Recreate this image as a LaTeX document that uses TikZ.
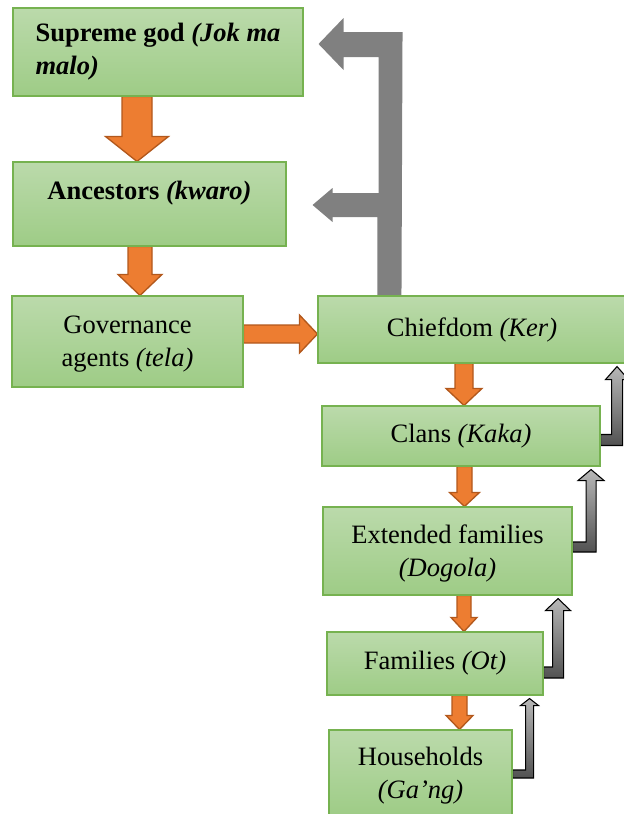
\documentclass[tikz,border=0pt]{standalone}
\usepackage{fontspec}
\setmainfont{Liberation Serif}
\usetikzlibrary{calc,backgrounds}

\definecolor{boxtop}{RGB}{187,218,171}
\definecolor{boxbot}{RGB}{158,204,134}
\definecolor{boxline}{RGB}{118,178,80}
\definecolor{orangefill}{RGB}{237,125,49}
\definecolor{orangeline}{RGB}{178,88,28}
\definecolor{bigarrow}{RGB}{128,128,128}

\tikzset{
  box/.style={draw=boxline, line width=0.8pt, top color=boxtop, bottom color=boxbot,
    inner sep=0pt, align=center, font=\fontsize{19.9}{24.75}\selectfont},
  orangearrow/.style={fill=orangefill, draw=orangeline, line width=1pt},
  greyarrow/.style={top color=black!28, bottom color=black!68, draw=black, line width=0.8pt},
  bigarrowfill/.style={fill=bigarrow},
}

%% down arrow between two boxes: upper, lower, x, half shaft, half head, head length
\newcommand{\orangedown}[6]{%
  \draw[orangearrow] let \p1=(#1.south), \p2=(#2.north), \p3=(#3,0), \p4=(#4,-#6), \p5=(#5,0) in
    (\x3-\x4,\y1) -- (\x3+\x4,\y1) -- (\x3+\x4,\y2+\y4) -- (\x3+\x5,\y2+\y4) -- (\x3,\y2)
    -- (\x3-\x5,\y2+\y4) -- (\x3-\x4,\y2+\y4) -- cycle;}

%% bent arrow from the right side of a box up to the box above it
\newcommand{\greyup}[7]{%
  \draw[greyarrow] let \p1=(#1.east), \p2=(#2.south), \p3=(#3,#4), \p4=(#5,-#7), \p5=(#6,-3) in
    (\x1,\y1+\y3+\x4) -- (\x1+\x3-\x4,\y1+\y3+\x4) -- (\x1+\x3-\x4,\y2-\y5-\y4)
    -- (\x1+\x3-\x5,\y2-\y5-\y4) -- (\x1+\x3,\y2-\y5) -- (\x1+\x3+\x5,\y2-\y5-\y4)
    -- (\x1+\x3+\x4,\y2-\y5-\y4) -- (\x1+\x3+\x4,\y1+\y3-\x4) -- (\x1,\y1+\y3-\x4) -- cycle;}

\begin{document}
\begin{tikzpicture}[x=0.75pt, y=-0.75pt]
    \useasboundingbox (0,0) rectangle (624,814);

    %% The boxes, left column first
    \node[box, minimum width=217.5pt, minimum height=66pt, align=left] (sg) at (158,52)
        {\textbf{Supreme god \textit{(Jok ma}}\\\textbf{\textit{malo)}}};
    \node[box, minimum width=204.75pt, minimum height=63pt] (anc) at (149.5,204)
        {\textbf{Ancestors \textit{(kwaro)}}\\[-4pt]\mbox{}};
    \node[box, minimum width=173.25pt, minimum height=68.25pt] (gov) at (127.5,341.5)
        {\rule{0pt}{17pt}Governance\\agents \textit{(tela)}};

    %% right column
    \node[box, minimum width=231pt, minimum height=50.25pt] (chief) at (472,329.5) {Chiefdom \textit{(Ker)}};
    \node[box, minimum width=208.5pt, minimum height=45pt] (clans) at (461,436) {Clans \textit{(Kaka)}};
    \node[box, minimum width=186.75pt, minimum height=66pt] (ext) at (447.5,551) {\rule{0pt}{17pt}Extended families\\\textit{(Dogola)}};
    \node[box, minimum width=162pt, minimum height=47.25pt] (fam) at (435,663.5) {Families \textit{(Ot)}};
    \node[box, minimum width=137.25pt, minimum height=64.5pt] (hh) at (420.5,773) {\rule{0pt}{17pt}Households\\\textit{(Ga’ng)}};

    \begin{pgfonlayer}{background}
    %% orange arrows going down
    \orangedown{sg}{anc}{137}{15}{31.5}{25}
    \orangedown{anc}{gov}{140}{12}{22}{21}
    \orangedown{chief}{clans}{464}{9}{18}{17}
    \orangedown{clans}{ext}{464.5}{7.5}{15}{14}
    \orangedown{ext}{fam}{464}{7}{13}{14}
    \orangedown{fam}{hh}{459.5}{7.5}{13.5}{14}

    %% governance agents to chiefdom
    \draw[orangearrow] let \p1=(gov.east), \p2=(chief.west), \p3=(0,334) in
        (\x1,\y3+6.75pt) -- (\x2-13.5pt,\y3+6.75pt) -- (\x2-13.5pt,\y3+14.25pt) -- (\x2,\y3)
        -- (\x2-13.5pt,\y3-14.25pt) -- (\x2-13.5pt,\y3-6.75pt) -- (\x1,\y3-6.75pt) -- cycle;

    %% big grey arrow from the chiefdom back up to the ancestors and the supreme god
    \coordinate (gb) at ($(chief.north west)+(72,0)$);
    \coordinate (toptip) at ($(sg.east)+(15,-8)$);
    \coordinate (lowtip) at ($(anc.east)+(26,1)$);
    \fill[bigarrowfill] ($(gb)+(-12,0)$) |- ($(lowtip)+(20,12)$) -- ++(0,5) -- (lowtip) -- ++(20,-17)
        -- ++(0,5) -- ++(46,0) |- ($(toptip)+(25,13)$) -- ++(0,13) -- (toptip) -- ++(25,-26)
        -- ++(0,14) -- ++(59,0) -- ($(gb)+(12,0)$) -- cycle;

    %% small grey arrows going up on the right
    \greyup{clans}{chief}{16.5}{4}{5.5}{11.5}{13}
    \greyup{ext}{clans}{18.5}{-4}{5}{13}{11}
    \greyup{fam}{ext}{14.5}{9}{5.5}{12.5}{12}
    \greyup{hh}{fam}{17}{1}{4}{9}{7}
    \end{pgfonlayer}
\end{tikzpicture}
\end{document}
